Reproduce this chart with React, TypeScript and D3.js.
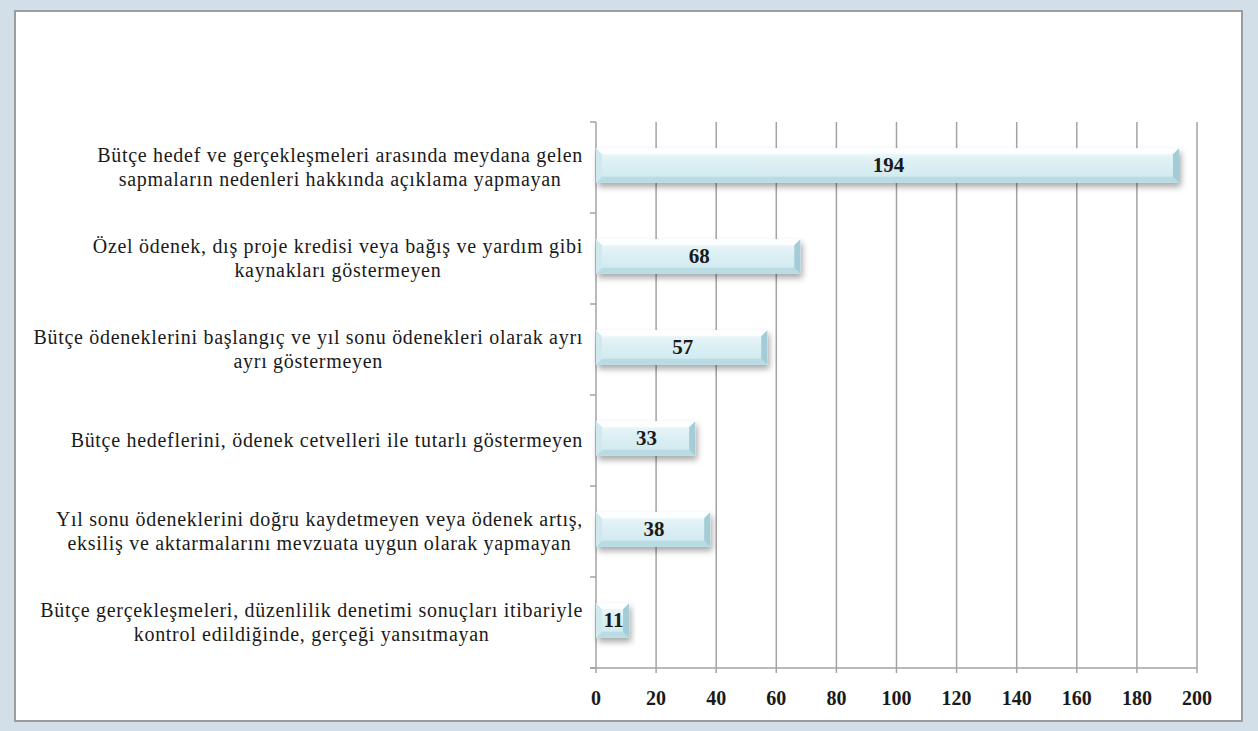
import { useEffect, useRef } from "react";
import * as d3 from "d3";

const categories: string[][] = [
  ["Bütçe hedef ve gerçekleşmeleri arasında meydana gelen", "sapmaların nedenleri hakkında açıklama yapmayan"],
  ["Özel ödenek, dış proje kredisi veya bağış ve yardım gibi", "kaynakları göstermeyen"],
  ["Bütçe ödeneklerini başlangıç ve yıl sonu ödenekleri olarak ayrı", "ayrı göstermeyen"],
  ["Bütçe hedeflerini, ödenek cetvelleri ile tutarlı göstermeyen"],
  ["Yıl sonu ödeneklerini doğru kaydetmeyen veya ödenek artış,", "eksiliş ve aktarmalarını mevzuata uygun olarak yapmayan"],
  ["Bütçe gerçekleşmeleri, düzenlilik denetimi sonuçları itibariyle", "kontrol edildiğinde, gerçeği yansıtmayan"],
];
const values = [194, 68, 57, 33, 38, 11];
const xTicks = [0, 20, 40, 60, 80, 100, 120, 140, 160, 180, 200];

const W = 1258;
const H = 731;
const serif = "Liberation Serif, Times New Roman, serif";

export default function App() {
  const ref = useRef<SVGSVGElement | null>(null);

  useEffect(() => {
    if (!ref.current) return;
    const svg = d3.select(ref.current);
    svg.selectAll("*").remove();

    const left = 596;
    const right = 1197;
    const top = 122;
    const bottom = 668;
    const labelRight = 583;

    const x = d3.scaleLinear().domain([0, 200]).range([left, right]);
    const y = d3
      .scaleBand<number>()
      .domain(d3.range(values.length))
      .range([top, bottom])
      .paddingInner(0.62)
      .paddingOuter(0.31);
    const step = y.step();

    const defs = svg.append("defs");
    const grad = defs
      .append("linearGradient")
      .attr("id", "barFill")
      .attr("x1", 0)
      .attr("y1", 0)
      .attr("x2", 0)
      .attr("y2", 1);
    grad.append("stop").attr("offset", "0%").attr("stop-color", "#f2fafc");
    grad.append("stop").attr("offset", "35%").attr("stop-color", "#dff1f5");
    grad.append("stop").attr("offset", "100%").attr("stop-color", "#cde8ee");

    const shadow = defs
      .append("filter")
      .attr("id", "shadow")
      .attr("x", "-10%")
      .attr("y", "-30%")
      .attr("width", "130%")
      .attr("height", "180%");
    shadow
      .append("feDropShadow")
      .attr("dx", 2)
      .attr("dy", 4)
      .attr("stdDeviation", 3)
      .attr("flood-color", "#000")
      .attr("flood-opacity", 0.35);

    // background and panel
    svg.append("rect").attr("width", W).attr("height", H).attr("fill", "#d2dee8");
    svg
      .append("rect")
      .attr("x", 15)
      .attr("y", 11)
      .attr("width", 1227)
      .attr("height", 710)
      .attr("fill", "#ffffff")
      .attr("stroke", "#9c9c9c")
      .attr("stroke-width", 2);

    const grid = "#a3a3a3";

    // vertical gridlines
    svg
      .append("g")
      .selectAll("line")
      .data(xTicks.slice(1))
      .join("line")
      .attr("x1", (d) => x(d))
      .attr("x2", (d) => x(d))
      .attr("y1", top)
      .attr("y2", bottom + 5)
      .attr("stroke", grid)
      .attr("stroke-width", 1.5);

    // y axis line + ticks
    svg
      .append("line")
      .attr("x1", left)
      .attr("x2", left)
      .attr("y1", top)
      .attr("y2", bottom + 5)
      .attr("stroke", grid)
      .attr("stroke-width", 1.5);
    svg
      .append("g")
      .selectAll("line")
      .data(d3.range(values.length + 1))
      .join("line")
      .attr("x1", left - 6)
      .attr("x2", left)
      .attr("y1", (i) => top + i * step)
      .attr("y2", (i) => top + i * step)
      .attr("stroke", grid)
      .attr("stroke-width", 1.5);

    // x axis line
    svg
      .append("line")
      .attr("x1", left - 6)
      .attr("x2", right)
      .attr("y1", bottom)
      .attr("y2", bottom)
      .attr("stroke", grid)
      .attr("stroke-width", 1.5);

    // x tick labels
    svg
      .append("g")
      .selectAll("text")
      .data(xTicks)
      .join("text")
      .attr("x", (d) => x(d))
      .attr("y", 705)
      .attr("text-anchor", "middle")
      .attr("font-family", serif)
      .attr("font-weight", "bold")
      .attr("font-size", 20)
      .attr("fill", "#1a1a1a")
      .text((d) => d);

    // bars
    const bevel = 6;
    const bars = svg
      .append("g")
      .selectAll("g")
      .data(values)
      .join("g")
      .attr("transform", (_, i) => `translate(0,${(y(i) ?? 0) - 2})`);
    const bh = y.bandwidth();

    bars
      .append("rect")
      .attr("x", left)
      .attr("y", 0)
      .attr("width", (d) => x(d) - left)
      .attr("height", bh)
      .attr("fill", "url(#barFill)")
      .attr("filter", "url(#shadow)");

    // top bevel (light)
    bars
      .append("path")
      .attr("d", (d) => {
        const w = x(d) - left;
        const b = Math.min(bevel, w / 3);
        return `M${left},0 L${left + w},0 L${left + w - b},${b} L${left + b},${b} Z`;
      })
      .attr("fill", "#ffffff")
      .attr("opacity", 0.85);
    // bottom bevel (darker)
    bars
      .append("path")
      .attr("d", (d) => {
        const w = x(d) - left;
        const b = Math.min(bevel, w / 3);
        return `M${left},${bh} L${left + w},${bh} L${left + w - b},${bh - b} L${left + b},${bh - b} Z`;
      })
      .attr("fill", "#b9dbe3");
    // right bevel (darkest)
    bars
      .append("path")
      .attr("d", (d) => {
        const w = x(d) - left;
        const b = Math.min(bevel, w / 3);
        return `M${left + w},0 L${left + w},${bh} L${left + w - b},${bh - b} L${left + w - b},${b} Z`;
      })
      .attr("fill", "#a4ccd6");
    // left bevel
    bars
      .append("path")
      .attr("d", (d) => {
        const w = x(d) - left;
        const b = Math.min(bevel, w / 3);
        return `M${left},0 L${left + b},${b} L${left + b},${bh - b} L${left},${bh} Z`;
      })
      .attr("fill", "#cfe9ef");

    bars
      .append("text")
      .attr("x", (d) => (left + x(d)) / 2 + 1)
      .attr("y", bh / 2 + 7)
      .attr("text-anchor", "middle")
      .attr("font-family", serif)
      .attr("font-weight", "bold")
      .attr("font-size", 21)
      .attr("fill", "#1a1a1a")
      .text((d) => d);

    // category labels: lines centred inside a right-aligned block
    const lineH = 24;
    const labels = svg
      .append("g")
      .selectAll("g")
      .data(categories)
      .join("g");
    labels.each(function (lines, i) {
      const g = d3.select(this);
      const cy = (y(i) ?? 0) + bh / 2;
      const t = g
        .selectAll("text")
        .data(lines)
        .join("text")
        .attr("y", (_, j) => cy + 6 + (j - (lines.length - 1) / 2) * lineH)
        .attr("text-anchor", "middle")
        .attr("font-family", serif)
        .attr("font-size", 20)
        .attr("letter-spacing", 0.7)
        .attr("fill", "#1a1a1a")
        .text((d) => d);
      let maxW = 0;
      t.each(function () {
        maxW = Math.max(maxW, (this as SVGTextElement).getComputedTextLength());
      });
      t.attr("x", labelRight - maxW / 2);
    });
  }, []);

  return (
    <div style={{ position: "fixed", left: 0, top: 0, width: W, height: H }}>
      <svg ref={ref} width={W} height={H} style={{ display: "block" }} />
    </div>
  );
}
